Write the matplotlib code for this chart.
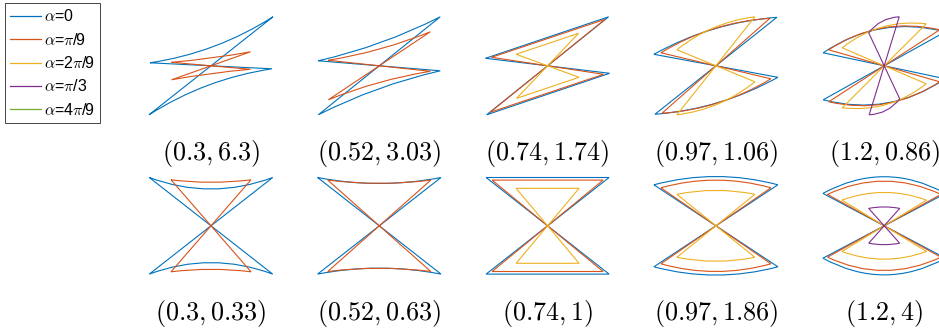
"""
Bow-tie wedges for five values of alpha, two rows of (a, b) parameter pairs.
"""
import numpy as np
import matplotlib.pyplot as plt
from matplotlib.path import Path
from matplotlib.patches import PathPatch
from matplotlib.lines import Line2D

plt.rcParams['mathtext.fontset'] = 'cm'

# ---- Data ------------------------------------------------------------
ALPHA_LABELS = [r'$\alpha$=0', r'$\alpha$=$\pi$/9', r'$\alpha$=2$\pi$/9',
                r'$\alpha$=$\pi$/3', r'$\alpha$=4$\pi$/9']
COLORS = ['#0072BD', '#D95319', '#EDB120', '#7E2F8E', '#77AC30']

TOP_LABELS = [r'$(0.3, 6.3)$', r'$(0.52, 3.03)$', r'$(0.74, 1.74)$',
              r'$(0.97, 1.06)$', r'$(1.2, 0.86)$']
BOTTOM_LABELS = [r'$(0.3, 0.33)$', r'$(0.52, 0.63)$', r'$(0.74, 1)$',
                 r'$(0.97, 1.86)$', r'$(1.2, 4)$']

# One wedge per panel: first corner (x, y), second corner (x, y), bow of the
# outer edge. Bow-tie centred on the origin, the opposite wedge is the point
# reflection. bow > 0 bulges outwards, bow < 0 sags towards the centre.
# None = curve not drawn for that panel.
TOP_A0 = [(-61, 3, 62, 49, -7), (-61, 5, 61, 49, -4), (-62, 7.5, 61, 49, 0),
          (-62, 11.5, 61, 48.5, 7), (-61, 13, 61, 34, 14)]
TOP_A1 = [(-39.5, 3.5, 39.5, 14, -1), (-51, 5.5, 51, 34, -3),
          (-56, 8.5, 57.5, 46.5, 0), (-55, 13, 54, 47.5, 7),
          (-55.5, 16, 55.5, 36, 12)]
TOP_A2 = [None, None, (-31.5, 11.5, 31, 32.5, 0), (-39, 16, 39, 49, 6),
          (-42, 18, 42, 42, 9)]
TOP_A3 = [None, None, None, None, (-15.5, 33, 15, 49, 4)]

BOT_A0 = [(-61.7, 48.3, 61.7, 48.3, -11.5), (-61.7, 48.3, 61.7, 48.3, -6),
          (-61.5, 48.3, 61.5, 48.3, 0), (-62, 41, 62, 41, 8.3),
          (-61.3, 32.4, 61.3, 32.4, 16.7)]
BOT_A1 = [(-40, 46, 40, 46, -2.5), (-51.5, 45.7, 51.5, 45.7, -3.3),
          (-55.5, 45.7, 55.5, 45.7, 0), (-55, 38, 55, 38, 7.7),
          (-56.7, 31.4, 56.7, 31.4, 13.3)]
BOT_A2 = [None, None, (-31.5, 37.5, 31.5, 37.5, 0), (-39, 31.5, 39, 31.5, 4),
          (-42.3, 25.7, 42.3, 25.7, 7.7)]
BOT_A3 = [None, None, None, None, (-15.5, 17.4, 15.5, 17.4, 1.5)]

TOP_ROW = [TOP_A0, TOP_A1, TOP_A2, TOP_A3]
BOT_ROW = [BOT_A0, BOT_A1, BOT_A2, BOT_A3]

# ---- Layout (pixels) -------------------------------------------------
W, H = 939, 330
COL_X0, COL_DX = 211, 168.3
ROW_Y = [65.8, 225.8]
PANEL_W, PANEL_H = 150, 130


def bowtie_patch(wedge, color):
    x1, y1, x2, y2, bow = wedge
    p1 = np.array([x1, y1], float)
    p2 = np.array([x2, y2], float)
    mid = (p1 + p2) / 2
    n = np.array([-(y2 - y1), x2 - x1], float)
    n /= np.hypot(*n)
    if n @ mid < 0:
        n = -n
    ctrl = mid + 2 * bow * n        # quadratic bezier: midpoint sits at +bow
    verts = [p1, ctrl, p2, (0, 0), -p2, -ctrl, -p1, (0, 0), p1]
    codes = [Path.MOVETO, Path.CURVE3, Path.CURVE3, Path.LINETO, Path.LINETO,
             Path.CURVE3, Path.CURVE3, Path.LINETO, Path.LINETO]
    return PathPatch(Path(verts, codes), fill=False, edgecolor=color,
                     lw=0.8, clip_on=False, joinstyle='miter')


fig = plt.figure(figsize=(W / 100, H / 100), dpi=100)

for row, (wedges, labels) in enumerate([(TOP_ROW, TOP_LABELS),
                                        (BOT_ROW, BOTTOM_LABELS)]):
    for col in range(5):
        cx = COL_X0 + COL_DX * col
        cy = ROW_Y[row]
        ax = fig.add_axes([(cx - PANEL_W / 2) / W,
                           1 - (cy + PANEL_H / 2) / H,
                           PANEL_W / W, PANEL_H / H])
        ax.set_xlim(-PANEL_W / 2, PANEL_W / 2)
        ax.set_ylim(-PANEL_H / 2, PANEL_H / 2)
        ax.axis('off')
        for k, series in enumerate(wedges):
            if series[col] is not None:
                ax.add_patch(bowtie_patch(series[col], COLORS[k]))
        ax.text(0, -88, labels[col], ha='center', va='center', fontsize=18.8,
                clip_on=False)

handles = [Line2D([], [], color=c, lw=0.9) for c in COLORS]
leg = fig.legend(handles, ALPHA_LABELS, loc='upper left',
                 bbox_to_anchor=(5 / W, 1 - 3 / H), borderaxespad=0,
                 prop={'family': 'Liberation Sans', 'size': 11.5},
                 frameon=True, fancybox=False, framealpha=1,
                 edgecolor='#262626', handlelength=1.9, handletextpad=0.2,
                 labelspacing=0.46, borderpad=0.34)
leg.get_frame().set_linewidth(0.6)

fig.savefig('out.png', dpi=100)
